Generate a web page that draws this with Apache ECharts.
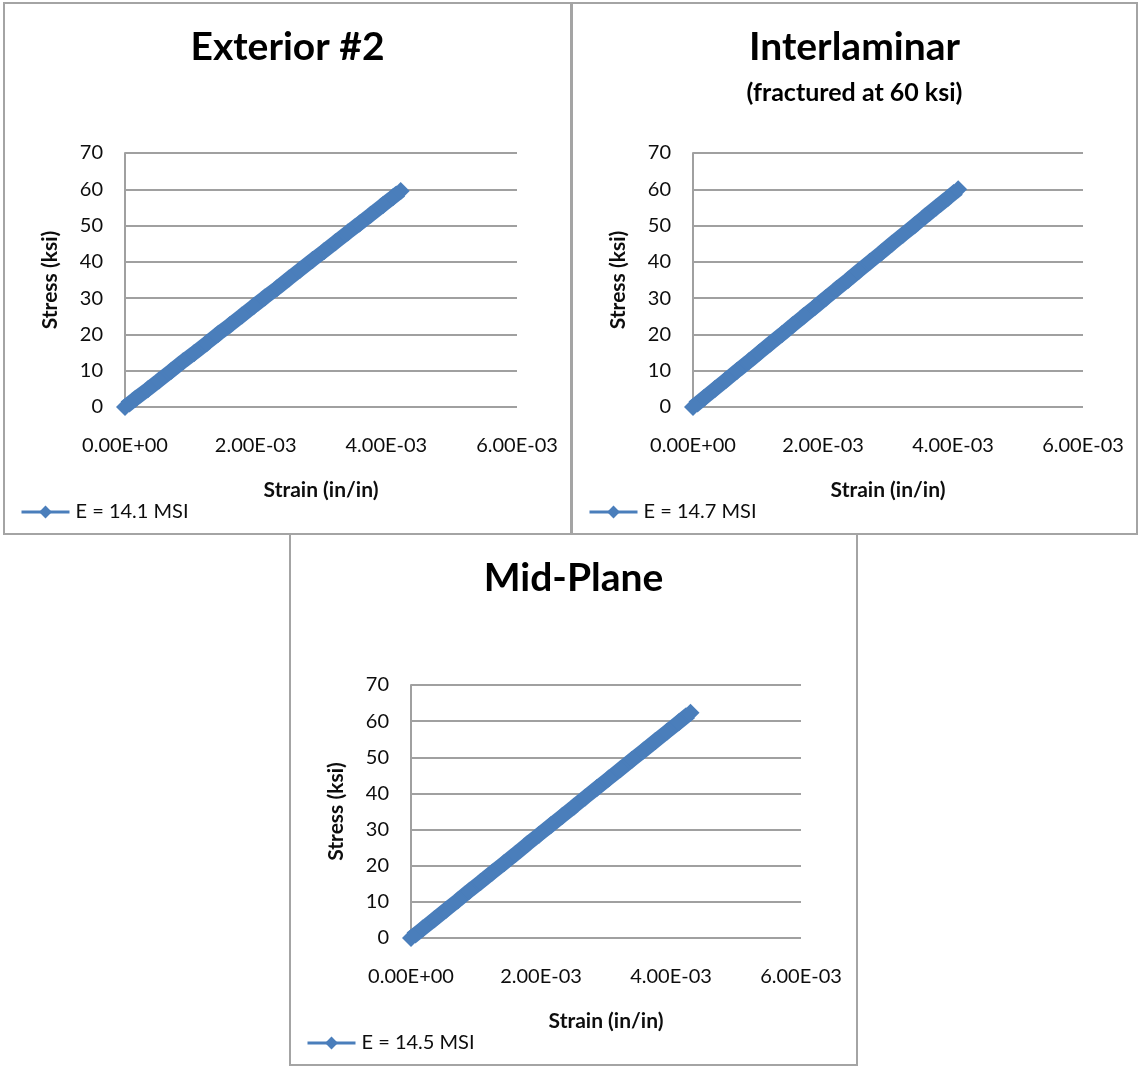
<!DOCTYPE html>
<html>
<head>
<meta charset="utf-8">
<title>Stress-Strain Curves</title>
<script src="https://cdn.jsdelivr.net/npm/echarts@6/dist/echarts.min.js"></script>
<style>
  html, body { margin: 0; padding: 0; background: #ffffff; }
  #chart { width: 1138px; height: 1067px; }
</style>
</head>
<body>
<div id="chart"></div>
<script>
// Specimen titles and legend entries
const panelTitles = ['Exterior #2', 'Interlaminar', 'Mid-Plane'];
const panelSubtitles = ['', '(fractured at 60 ksi)', ''];
const seriesNames = ['E = 14.1 MSI', 'E = 14.7 MSI', 'E = 14.5 MSI'];

// Tick labels
const xTickLabels = ['0.00E+00', '2.00E-03', '4.00E-03', '6.00E-03'];
const yTickLabels = ['0', '10', '20', '30', '40', '50', '60', '70'];

// Exterior #2: strain (in/in) and stress (ksi)
const exteriorStrain = [0, 0.00016, 0.00035, 0.00052, 0.00071, 0.00089, 0.00106, 0.00125, 0.00143, 0.00160,
  0.00179, 0.00197, 0.00214, 0.00233, 0.00251, 0.00268, 0.00287, 0.00305, 0.00322, 0.00341,
  0.00359, 0.00376, 0.00395, 0.00410, 0.00422];
const exteriorStress = [0, 2.3, 4.9, 7.3, 10.0, 12.6, 14.9, 17.6, 20.2, 22.5,
  25.2, 27.8, 30.2, 32.8, 35.4, 37.8, 40.5, 43.0, 45.4, 48.1,
  50.6, 53.0, 55.7, 57.8, 59.5];

// Interlaminar: strain (in/in) and stress (ksi)
const interStrain = [0, 0.00017, 0.00034, 0.00051, 0.00068, 0.00086, 0.00102, 0.00119, 0.00137, 0.00153,
  0.00170, 0.00188, 0.00204, 0.00221, 0.00239, 0.00255, 0.00272, 0.00290, 0.00306, 0.00323,
  0.00341, 0.00357, 0.00374, 0.00392, 0.00408];
const interStress = [0, 2.5, 5.0, 7.5, 10.0, 12.6, 15.0, 17.5, 20.1, 22.5,
  25.0, 27.6, 30.0, 32.5, 35.1, 37.5, 40.0, 42.6, 45.0, 47.5,
  50.1, 52.5, 55.0, 57.6, 60.0];

// Mid-Plane: strain (in/in) and stress (ksi)
const midStrain = [0, 0.00018, 0.00036, 0.00054, 0.00072, 0.00090, 0.00107, 0.00125, 0.00143, 0.00161,
  0.00179, 0.00197, 0.00215, 0.00233, 0.00251, 0.00268, 0.00286, 0.00304, 0.00322, 0.00340,
  0.00358, 0.00376, 0.00394, 0.00412, 0.00430];
const midStress = [0, 2.6, 5.2, 7.8, 10.4, 13.1, 15.5, 18.1, 20.7, 23.3,
  26.0, 28.6, 31.2, 33.8, 36.4, 38.9, 41.5, 44.1, 46.7, 49.3,
  51.9, 54.5, 57.1, 59.7, 62.3];

const strainSets = [exteriorStrain, interStrain, midStrain];
const stressSets = [exteriorStress, interStress, midStress];

const FONT = 'Lato, "Open Sans", sans-serif';
const BLUE = '#4a7ebb';
const GRID_GRAY = '#a0a0a0';
const TEXT = '#0d0d0d';

// Panel frames: outer box of each chart
const panels = [
  { x: 4, y: 3, w: 567, h: 531 },
  { x: 572, y: 3, w: 565, h: 531 },
  { x: 290, y: 534, w: 567, h: 531 }
];
// Plot areas
const plots = [
  { left: 125, top: 153, width: 392, height: 254 },
  { left: 693, top: 153, width: 390, height: 254 },
  { left: 411, top: 685, width: 390, height: 253 }
];

const X_STEP = 0.002;
const Y_STEP = 10;

const option = {
  animation: false,
  backgroundColor: '#ffffff',
  textStyle: { fontFamily: FONT },
  title: [],
  legend: [],
  grid: [],
  xAxis: [],
  yAxis: [],
  series: [],
  graphic: []
};

panels.forEach((p, i) => {
  const cx = p.x + p.w / 2;

  option.graphic.push({
    type: 'rect',
    shape: { x: p.x, y: p.y, width: p.w, height: p.h },
    style: { fill: 'none', stroke: '#a4a4a4', lineWidth: 2 },
    silent: true,
    z: 0
  });

  option.title.push({
    text: panelTitles[i],
    left: cx,
    top: p.y + 20,
    padding: 0,
    textAlign: 'center',
    textStyle: { fontFamily: FONT, fontSize: 39, fontWeight: 'bold', color: '#000', lineHeight: 48 }
  });
  if (panelSubtitles[i]) {
    option.title.push({
      text: panelSubtitles[i],
      left: cx,
      top: p.y + 75,
      padding: 0,
      textAlign: 'center',
      textStyle: { fontFamily: FONT, fontSize: 25, fontWeight: 'bold', color: '#000', lineHeight: 30 }
    });
  }

  const g = plots[i];
  option.grid.push({ left: g.left, top: g.top, width: g.width, height: g.height, containLabel: false });

  option.xAxis.push({
    type: 'value',
    gridIndex: i,
    min: 0,
    max: 0.006,
    interval: X_STEP,
    name: 'Strain (in/in)',
    nameLocation: 'middle',
    nameGap: 73,
    nameTextStyle: { fontFamily: FONT, fontSize: 21, fontWeight: 'bold', color: TEXT, lineHeight: 21 },
    axisLine: { show: false },
    axisTick: { show: false },
    splitLine: { show: false },
    axisLabel: {
      margin: 29,
      fontFamily: FONT,
      fontSize: 20,
      lineHeight: 20,
      color: TEXT,
      formatter: v => xTickLabels[Math.round(v / X_STEP)]
    }
  });

  option.yAxis.push({
    type: 'value',
    gridIndex: i,
    min: 0,
    max: 70,
    interval: Y_STEP,
    name: 'Stress (ksi)',
    nameLocation: 'middle',
    nameGap: 64,
    nameTextStyle: { fontFamily: FONT, fontSize: 21, fontWeight: 'bold', color: TEXT, lineHeight: 21 },
    axisLine: { show: true, lineStyle: { color: GRID_GRAY, width: 2 } },
    axisTick: { show: false },
    splitLine: { show: true, lineStyle: { color: GRID_GRAY, width: 2 } },
    axisLabel: {
      margin: 22,
      fontFamily: FONT,
      fontSize: 20,
      color: TEXT,
      formatter: v => yTickLabels[Math.round(v / Y_STEP)]
    }
  });

  const pts = strainSets[i].map((s, k) => [s, stressSets[i][k]]);
  option.series.push({
    name: seriesNames[i],
    type: 'line',
    xAxisIndex: i,
    yAxisIndex: i,
    data: pts,
    clip: false,
    symbol: 'diamond',
    symbolSize: 18,
    showAllSymbol: true,
    itemStyle: { color: BLUE },
    lineStyle: { color: BLUE, width: 14 },
    z: 3
  });

  option.legend.push({
    data: [seriesNames[i]],
    left: p.x + 16,
    top: p.y + 499,
    padding: 0,
    itemWidth: 48,
    itemHeight: 16,
    itemGap: 0,
    selectedMode: false,
    lineStyle: { width: 3 },
    textStyle: { fontFamily: FONT, fontSize: 20, color: TEXT, padding: [0, 0, 0, 1] }
  });
});

const chart = echarts.init(document.getElementById('chart'), null, { renderer: 'canvas' });
chart.setOption(option);
</script>
</body>
</html>
